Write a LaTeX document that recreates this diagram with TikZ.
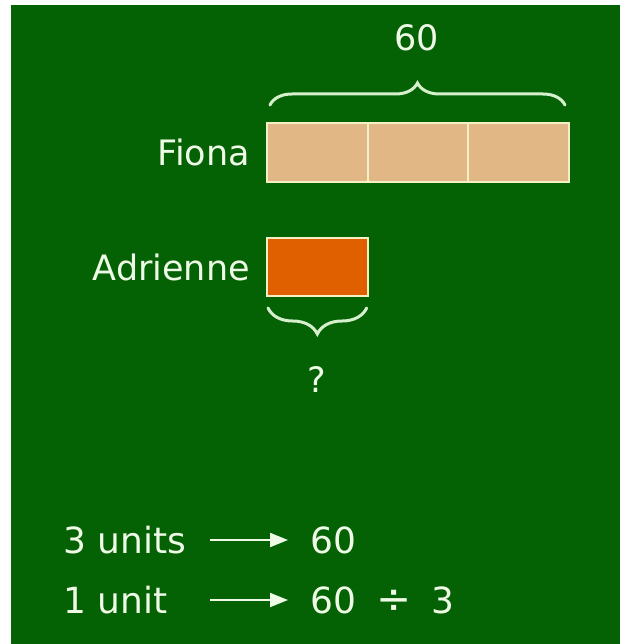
\documentclass[tikz,border=0pt]{standalone}
\usepackage{fontspec}
\setmainfont{DejaVu Sans}
\usepackage{tikz}
\usetikzlibrary{positioning}
\usetikzlibrary{arrows.meta}
\usetikzlibrary{decorations.pathreplacing}
\definecolor{board}{RGB}{4,97,4}
\definecolor{chalk}{RGB}{238,250,230}
\definecolor{bracecol}{RGB}{214,240,206}
\definecolor{unitfill}{RGB}{225,183,134}
\definecolor{partfill}{RGB}{224,96,0}
\definecolor{boxedge}{RGB}{242,240,196}

\begin{document}
\begin{tikzpicture}[
x=1pt,y=-1pt,
MyLabel/.style={text=chalk,font=\fontsize{35}{40}\selectfont,inner sep=0pt},
WorkLabel/.style={MyLabel,font=\fontsize{36}{40}\selectfont},
UnitBox/.style={draw=boxedge,line width=1.8pt,fill=unitfill,minimum width=100.67pt,minimum height=59pt,inner sep=0pt,outer sep=0pt},
PartBox/.style={UnitBox,fill=partfill,minimum height=58pt},
MyBrace/.style={draw=bracecol,line width=3pt,line cap=round,decorate},
MyArrow/.style={draw=chalk,line width=2pt,-{Triangle[length=18pt,width=14pt]}}
]

\useasboundingbox (0,0) rectangle (620,644);
\fill[white] (0,0) rectangle (620,644);
\fill[board] (11,5) rectangle (620,644);

% bar model
\node[UnitBox] (f1) at (317.3,152.5) {};
\node[UnitBox, right=0pt of f1] (f2) {};
\node[UnitBox, right=0pt of f2] (f3) {};
\node[PartBox, anchor=north west] (a1) at (267,238) {};

\node[MyLabel, left=17pt of f1] (fiona) {Fiona};
\node[MyLabel, left=17pt of a1] (adrienne) {Adrienne};

\draw[MyBrace, decoration={brace,amplitude=22pt}]
  ([xshift=3pt,yshift=18pt]f1.north west) -- ([xshift=-4pt,yshift=18pt]f3.north east);
\node[MyLabel] (total) at (417,37.5) {60};

\draw[MyBrace, decoration={brace,amplitude=26pt}]
  ([xshift=-1pt,yshift=-12pt]a1.south east) -- ([xshift=1pt,yshift=-12pt]a1.south west);
\node[MyLabel] (unknown) at (317,380) {?};

% working
\node[WorkLabel, anchor=west] (three) at (63,540) {3 units};
\node[WorkLabel, anchor=west] (r1) at (310,540) {60};
\node[WorkLabel, anchor=west] (one) at (63,600) {1 unit};
\node[WorkLabel, anchor=west] (r2) at (310,600) {60\hspace{20pt}{\fontsize{42}{40}\selectfont ÷}\hspace{20pt}3};

\coordinate (s1) at (210,540);
\coordinate (s2) at (210,600);
\draw[MyArrow] (s1) -- ([xshift=-22pt]r1.west);
\draw[MyArrow] (s2) -- ([xshift=-22pt]r2.west);

\end{tikzpicture}
\end{document}
